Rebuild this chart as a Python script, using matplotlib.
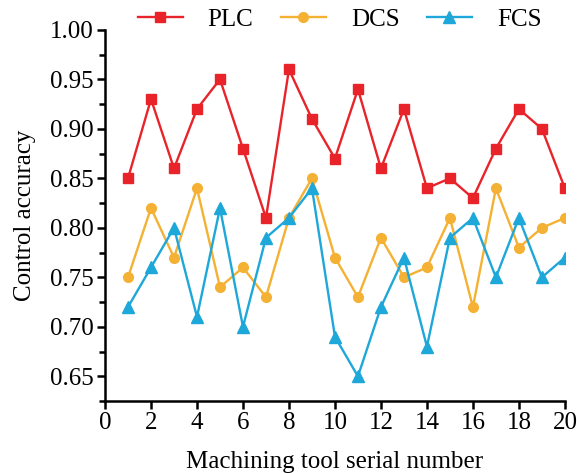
import matplotlib
matplotlib.use("Agg")
import matplotlib.pyplot as plt
from matplotlib.ticker import MultipleLocator

x = list(range(1, 21))
plc = [0.85, 0.93, 0.86, 0.92, 0.95, 0.88, 0.81, 0.96, 0.91, 0.87,
       0.94, 0.86, 0.92, 0.84, 0.85, 0.83, 0.88, 0.92, 0.90, 0.84]
dcs = [0.75, 0.82, 0.77, 0.84, 0.74, 0.76, 0.73, 0.81, 0.85, 0.77,
       0.73, 0.79, 0.75, 0.76, 0.81, 0.72, 0.84, 0.78, 0.80, 0.81]
fcs = [0.72, 0.76, 0.80, 0.71, 0.82, 0.70, 0.79, 0.81, 0.84, 0.69,
       0.65, 0.72, 0.77, 0.68, 0.79, 0.81, 0.75, 0.81, 0.75, 0.77]
labels = ["PLC", "DCS", "FCS"]

plt.rcParams['font.family'] = ['Liberation Serif', 'DejaVu Serif']
plt.rcParams['mathtext.fontset'] = 'stix'

fig = plt.figure(figsize=(5.77, 4.73), dpi=100)
ax = fig.add_axes([0.182, 0.152, 0.797, 0.785])

ax.plot(x, plc, color='#e8242a', marker='s', markersize=7, linewidth=1.7, label=labels[0])
ax.plot(x, dcs, color='#f4b133', marker='o', markersize=7, linewidth=1.7, label=labels[1])
ax.plot(x, fcs, color='#1ea7d9', marker='^', markersize=8, linewidth=1.7, label=labels[2])

ax.set_xlim(0, 20)
ax.set_ylim(0.625, 1.0)
ax.xaxis.set_major_locator(MultipleLocator(2))
ax.yaxis.set_major_locator(MultipleLocator(0.05))
ax.yaxis.set_minor_locator(MultipleLocator(0.025))
ax.yaxis.set_major_formatter(matplotlib.ticker.FormatStrFormatter('%.2f'))

for s in ['top', 'right']:
    ax.spines[s].set_visible(False)
for s in ['left', 'bottom']:
    ax.spines[s].set_linewidth(1.8)

ax.tick_params(axis='both', which='major', direction='out', length=5.5, width=1.8,
               labelsize=18, pad=2.5)
ax.tick_params(axis='y', which='minor', direction='out', length=4, width=1.8)

ax.set_xlabel("Machining tool serial number", fontsize=18, labelpad=12)
ax.set_ylabel("Control accuracy", fontsize=18, labelpad=10)

ax.legend(loc='center', bbox_to_anchor=(0.51, 1.027), ncol=3, frameon=False,
          fontsize=18, handlelength=1.8, columnspacing=1.1, handletextpad=1.0,
          borderaxespad=0, borderpad=0)

fig.savefig("out.png", dpi=100)
